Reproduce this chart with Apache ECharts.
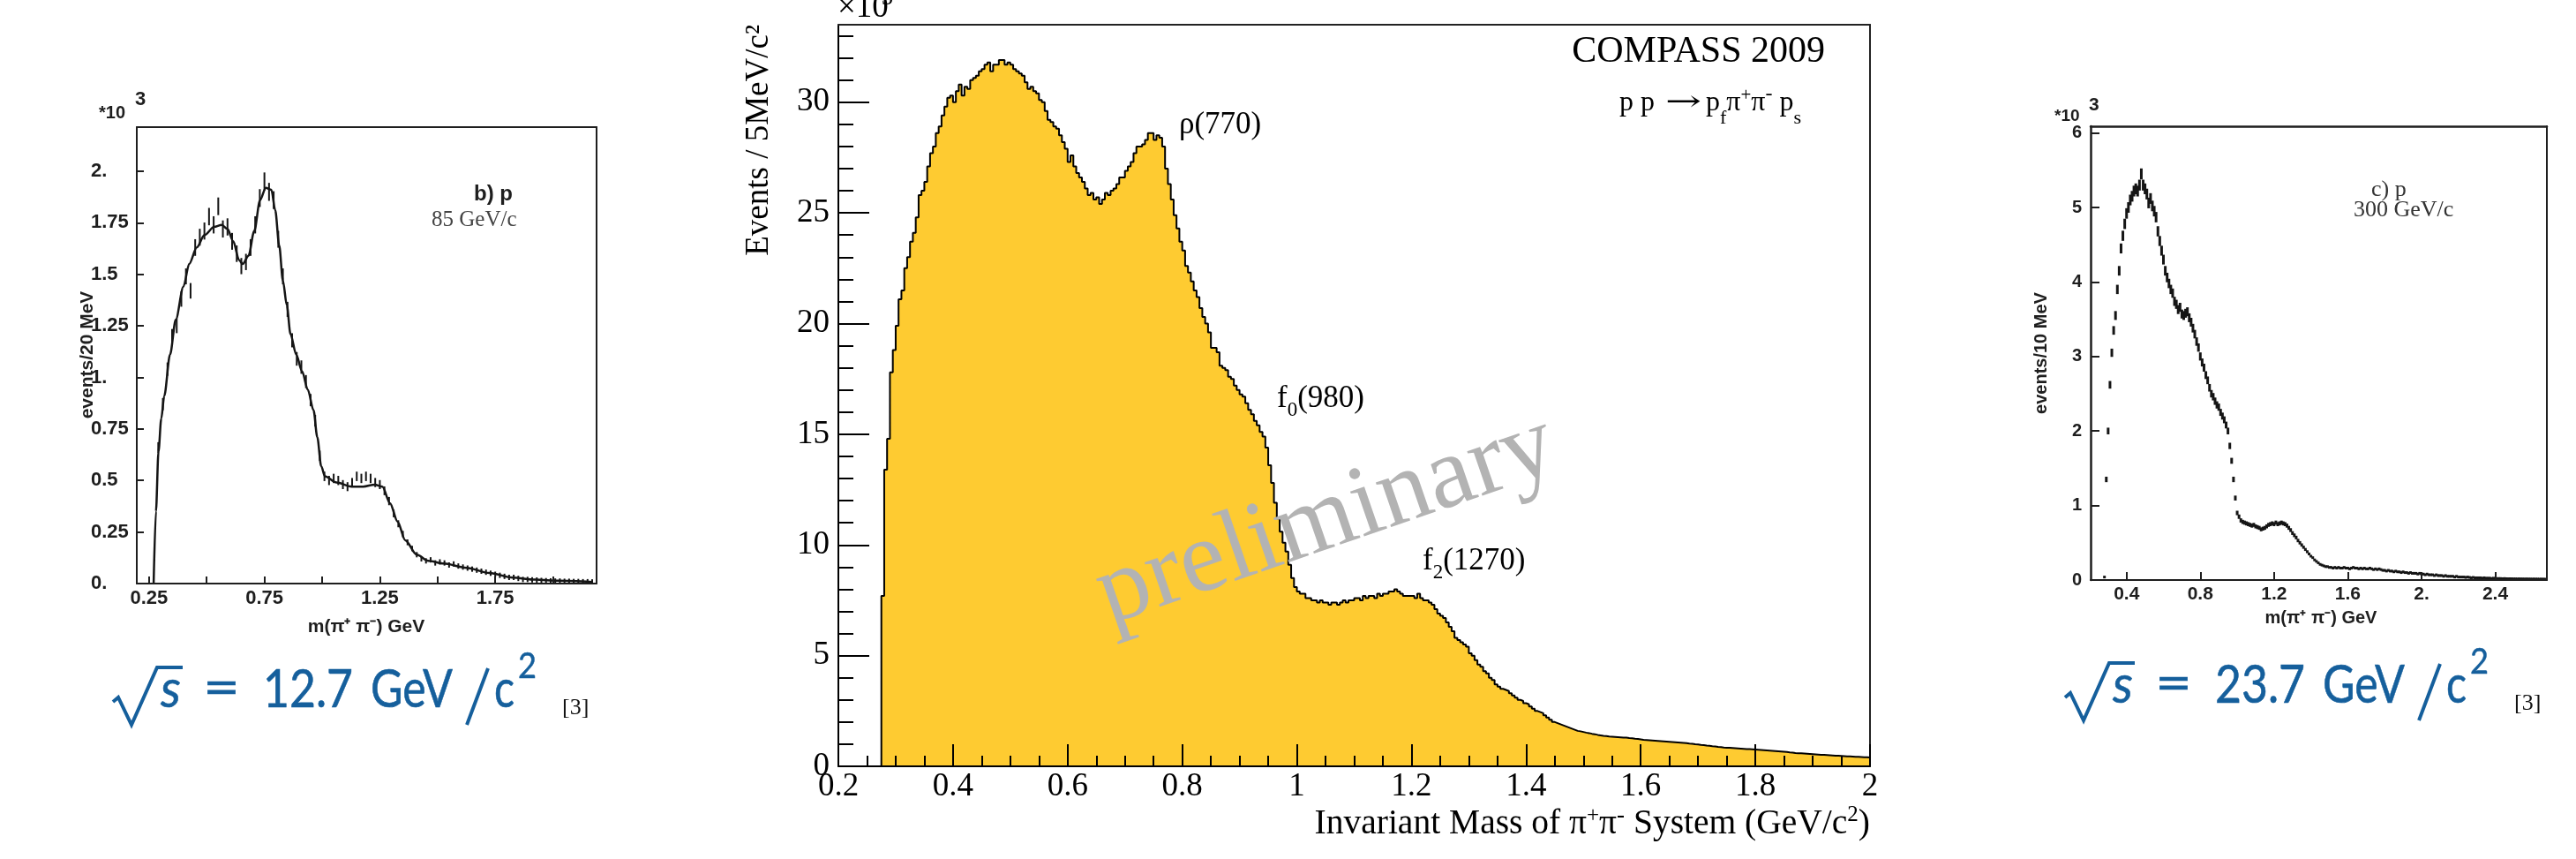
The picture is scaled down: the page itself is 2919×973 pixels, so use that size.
<!DOCTYPE html>
<html>
<head>
<meta charset="utf-8">
<title>π⁺π⁻ invariant mass spectra</title>
<style>
  html, body { margin: 0; padding: 0; background: #ffffff; }
  #chart { width: 2919px; height: 973px; }
</style>
<script src="https://cdn.jsdelivr.net/npm/echarts@6/dist/echarts.min.js"></script>
</head>
<body>
<div id="chart"></div>
<script>
// ---------------------------------------------------------------------------
// COMPASS 2009, p p -> p_f pi+ pi- p_s : events per 5 MeV/c^2 (x10^3),
// bins start at 0.200 GeV/c^2, one value per bin, up to 2.000 GeV/c^2.
// ---------------------------------------------------------------------------
const compassBinLow = 0.2;
const compassBinWidth = 0.005;
const compassCounts = [
  0, 0, 0, 0, 0, 0, 0, 0, 0, 0, 0, 0, 0, 0, 0, 7.7, 13.4, 14.8, 17.8, 18.8,            // 0.20
  19.9, 21.1, 21.5, 22.5, 23.0, 23.7, 24.1, 24.8, 25.8, 26.0, 26.4, 27.1, 27.7, 28.0, 28.6, 28.9, 29.4, 29.8, 30.2, 30.3, // 0.30
  30.0, 30.5, 30.8, 30.3, 30.7, 30.6, 31.0, 31.1, 31.2, 31.4, 31.5, 31.7, 31.8, 31.4, 31.7, 31.7, 31.9, 31.9, 31.7, 31.8, // 0.40
  31.7, 31.5, 31.4, 31.3, 31.2, 30.9, 30.6, 30.7, 30.5, 30.4, 30.1, 30.0, 29.6, 29.2, 29.1, 28.9, 28.8, 28.5, 28.2, 27.9, // 0.50
  27.3, 27.6, 27.1, 26.8, 26.6, 26.4, 26.1, 25.8, 25.9, 25.6, 25.7, 25.4, 25.6, 25.9, 25.8, 26.0, 26.1, 26.3, 26.6, 26.6, // 0.60
  26.9, 27.1, 27.3, 27.7, 28.0, 28.0, 28.1, 28.3, 28.6, 28.6, 28.3, 28.5, 28.4, 28.0, 27.0, 26.3, 25.6, 24.9, 24.3, 23.7, // 0.70
  23.3, 22.6, 22.3, 21.9, 21.5, 21.2, 20.7, 20.3, 20.0, 19.6, 18.9, 18.9, 18.7, 18.1, 18.0, 17.9, 17.6, 17.5, 17.2, 17.0, // 0.80
  16.8, 16.7, 16.4, 16.1, 15.9, 15.6, 15.4, 15.1, 14.9, 14.4, 13.6, 12.8, 11.9, 11.2, 10.6, 10.1, 9.7, 9.1, 8.5, 8.1,     // 0.90
  7.9, 7.8, 7.8, 7.6, 7.6, 7.5, 7.5, 7.4, 7.5, 7.4, 7.4, 7.3, 7.4, 7.4, 7.3, 7.4, 7.5, 7.4, 7.5, 7.5,                    // 1.00
  7.6, 7.6, 7.5, 7.7, 7.6, 7.7, 7.7, 7.6, 7.8, 7.7, 7.8, 7.8, 7.9, 7.9, 8.0, 7.9, 7.8, 7.7, 7.7, 7.7,                    // 1.10
  7.7, 7.6, 7.8, 7.6, 7.5, 7.5, 7.4, 7.3, 7.1, 6.9, 6.8, 6.7, 6.5, 6.3, 6.1, 5.8, 5.7, 5.6, 5.5, 5.4,                    // 1.20
  5.1, 5.0, 4.8, 4.6, 4.5, 4.3, 4.2, 4.0, 3.9, 3.7, 3.6, 3.5, 3.45, 3.4, 3.3, 3.2, 3.1, 3.0, 2.95, 2.85,                 // 1.30
  2.8, 2.7, 2.6, 2.5, 2.45, 2.4, 2.3, 2.2, 2.1, 2.0, 1.95, 1.9, 1.85, 1.8, 1.75, 1.7, 1.65, 1.6, 1.58, 1.55,             // 1.40
  1.52, 1.5, 1.47, 1.45, 1.42, 1.4, 1.38, 1.37, 1.35, 1.34, 1.33, 1.32, 1.31, 1.3, 1.3, 1.28, 1.27, 1.25, 1.24, 1.22,    // 1.50
  1.2, 1.19, 1.18, 1.17, 1.16, 1.15, 1.14, 1.13, 1.12, 1.11, 1.1, 1.09, 1.08, 1.07, 1.06, 1.05, 1.03, 1.02, 1.0, 0.99,   // 1.60
  0.97, 0.96, 0.94, 0.93, 0.91, 0.9, 0.88, 0.87, 0.85, 0.84, 0.84, 0.83, 0.82, 0.81, 0.8, 0.79, 0.78, 0.78, 0.77, 0.76,  // 1.70
  0.75, 0.74, 0.73, 0.72, 0.71, 0.7, 0.69, 0.68, 0.67, 0.66, 0.65, 0.63, 0.62, 0.6, 0.59, 0.59, 0.58, 0.57, 0.56, 0.55,  // 1.80
  0.54, 0.53, 0.52, 0.52, 0.51, 0.5, 0.49, 0.48, 0.48, 0.47, 0.46, 0.45, 0.45, 0.44, 0.43, 0.43, 0.42, 0.41, 0.41, 0.4   // 1.90
];
const compassXTicks = [0.2, 0.4, 0.6, 0.8, 1.0, 1.2, 1.4, 1.6, 1.8, 2.0];
const compassXTickText = ['0.2', '0.4', '0.6', '0.8', '1', '1.2', '1.4', '1.6', '1.8', '2'];
const compassYTicks = [0, 5, 10, 15, 20, 25, 30];
const compassYTickText = ['0', '5', '10', '15', '20', '25', '30'];

// ---------------------------------------------------------------------------
// 85 GeV/c (sqrt(s) = 12.7 GeV): fitted curve and data points, events / 20 MeV (x10^3)
// ---------------------------------------------------------------------------
const lowCurveMass = [0.270, 0.280, 0.291, 0.303, 0.316, 0.341, 0.366, 0.399, 0.424, 0.457,
  0.490, 0.532, 0.565, 0.590, 0.615, 0.640, 0.656, 0.681, 0.706, 0.731,
  0.756, 0.780, 0.797, 0.814, 0.830, 0.847, 0.863, 0.888, 0.913, 0.938,
  0.963, 0.979, 0.996, 1.012, 1.062, 1.128, 1.178, 1.228, 1.261, 1.294,
  1.327, 1.360, 1.410, 1.460, 1.526, 1.626, 1.725, 1.825, 1.924, 2.024, 2.170];
const lowCurveValue = [0, 0.35, 0.64, 0.80, 0.91, 1.11, 1.28, 1.44, 1.55, 1.63,
  1.69, 1.73, 1.74, 1.72, 1.66, 1.57, 1.55, 1.59, 1.71, 1.86,
  1.92, 1.91, 1.81, 1.64, 1.47, 1.35, 1.21, 1.11, 1.03, 0.94,
  0.84, 0.71, 0.57, 0.52, 0.49, 0.47, 0.47, 0.48, 0.47, 0.39,
  0.30, 0.21, 0.14, 0.11, 0.097, 0.076, 0.051, 0.029, 0.019, 0.014, 0.008];
const lowPointFirst = 0.29;   // centre of the first 20 MeV bin
const lowPointStep = 0.02;
const lowPointValue = [
  0.66, 0.87, 1.04, 1.20, 1.25, 1.38, 1.49, 1.42, 1.63, 1.68,
  1.71, 1.78, 1.74, 1.83, 1.72, 1.73, 1.66, 1.60, 1.54, 1.56,
  1.63, 1.74, 1.87, 1.95, 1.90, 1.86, 1.67, 1.49, 1.33, 1.18,
  1.09, 1.05, 0.98, 0.89, 0.79, 0.62, 0.52, 0.50, 0.51, 0.50,
  0.48, 0.47, 0.49, 0.52, 0.51, 0.52, 0.51, 0.49, 0.48, 0.45,
  0.40, 0.34, 0.29, 0.24, 0.20, 0.17, 0.14, 0.12, 0.11, 0.115,
  0.10, 0.105, 0.10, 0.09, 0.095, 0.085, 0.08, 0.075, 0.07, 0.065,
  0.06, 0.055, 0.05, 0.045, 0.04, 0.035, 0.03, 0.03, 0.025, 0.02,
  0.02, 0.018, 0.017, 0.015, 0.014, 0.013, 0.012, 0.012, 0.011, 0.011,
  0.010, 0.010, 0.009, 0.009, 0.008
];
const lowXTicks = [0.25, 0.5, 0.75, 1.0, 1.25, 1.5, 1.75, 2.0];
const lowXLabelValues = [0.25, 0.75, 1.25, 1.75];
const lowXLabelText = ['0.25', '0.75', '1.25', '1.75'];
const lowYTicks = [0, 0.25, 0.5, 0.75, 1.0, 1.25, 1.5, 1.75, 2.0];
const lowYTickText = ['0.', '0.25', '0.5', '0.75', '1.', '1.25', '1.5', '1.75', '2.'];

// ---------------------------------------------------------------------------
// 300 GeV/c (sqrt(s) = 23.7 GeV): data points, events / 10 MeV (x10^3)
// ---------------------------------------------------------------------------
const highPointFirst = 0.28;
const highPointStep = 0.01;
const highPointValue = [
  0.04, 1.35,
  2.0, 2.62, 3.05, 3.35, 3.55, 3.9, 4.15, 4.45, 4.62, 4.78,          // 0.30
  4.92, 5.0, 5.1, 5.15, 5.22, 5.25, 5.22, 5.3, 5.45, 5.3,            // 0.40
  5.25, 5.18, 5.06, 5.12, 5.02, 4.95, 4.87, 4.68, 4.55, 4.42,        // 0.50
  4.3, 4.15, 4.06, 3.98, 3.9, 3.85, 3.74, 3.7, 3.63, 3.66,           // 0.60
  3.57, 3.55, 3.58, 3.6, 3.52, 3.46, 3.38, 3.3, 3.2, 3.12,           // 0.70
  3.0, 2.92, 2.85, 2.75, 2.68, 2.58, 2.5, 2.46, 2.4, 2.35,           // 0.80
  2.32, 2.25, 2.2, 2.15, 2.08, 2.0, 1.8, 1.6, 1.35, 1.1,             // 0.90
  0.9, 0.85, 0.8, 0.78, 0.77, 0.76, 0.75, 0.74, 0.73, 0.74,          // 1.00
  0.72, 0.71, 0.7, 0.68, 0.69, 0.7, 0.72, 0.74, 0.75, 0.76,          // 1.10
  0.75, 0.77, 0.75, 0.76, 0.77, 0.76, 0.75, 0.73, 0.7, 0.67,         // 1.20
  0.63, 0.6, 0.57, 0.53, 0.5, 0.47, 0.44, 0.41, 0.38, 0.35,          // 1.30
  0.32, 0.3, 0.27, 0.25, 0.23, 0.21, 0.2, 0.19, 0.18, 0.18,          // 1.40
  0.17, 0.17, 0.16, 0.17, 0.16, 0.17, 0.16, 0.16, 0.17, 0.16,        // 1.50
  0.16, 0.15, 0.16, 0.17, 0.16, 0.16, 0.15, 0.16, 0.15, 0.16,        // 1.60
  0.15, 0.15, 0.16, 0.15, 0.14, 0.15, 0.14, 0.15, 0.14, 0.13,        // 1.70
  0.13, 0.12, 0.13, 0.12, 0.12, 0.11, 0.12, 0.11, 0.11, 0.1,         // 1.80
  0.11, 0.1, 0.1, 0.09, 0.1, 0.09, 0.09, 0.09, 0.08, 0.09,           // 1.90
  0.08, 0.08, 0.07, 0.08, 0.07, 0.07, 0.07, 0.06, 0.07, 0.06,        // 2.00
  0.06, 0.06, 0.05, 0.06, 0.05, 0.05, 0.05, 0.05, 0.04, 0.05,        // 2.10
  0.04, 0.04, 0.04, 0.04, 0.035, 0.04, 0.035, 0.03, 0.035, 0.03,     // 2.20
  0.03, 0.03, 0.03, 0.025, 0.03, 0.025, 0.025, 0.025, 0.02, 0.025,   // 2.30
  0.02, 0.02, 0.02, 0.02, 0.018, 0.02, 0.018, 0.017, 0.018, 0.017,   // 2.40
  0.016, 0.016, 0.015, 0.016, 0.015, 0.015, 0.014, 0.015, 0.014, 0.014, // 2.50
  0.013, 0.014, 0.013, 0.013, 0.012, 0.013, 0.012, 0.012            // 2.60
];
const highXTicks = [0.4, 0.8, 1.2, 1.6, 2.0, 2.4];
const highXTickText = ['0.4', '0.8', '1.2', '1.6', '2.', '2.4'];
const highYTicks = [0, 1, 2, 3, 4, 5, 6];
const highYTickText = ['0', '1', '2', '3', '4', '5', '6'];

// ---------------------------------------------------------------------------
// Series data built from the arrays above
// ---------------------------------------------------------------------------
const compassSeriesData = compassCounts.map((v, i) => [compassBinLow + i * compassBinWidth, v]);
compassSeriesData.push([compassBinLow + compassCounts.length * compassBinWidth, compassCounts[compassCounts.length - 1]]);

const lowCurveData = lowCurveMass.map((m, i) => [m, lowCurveValue[i]]);
// statistical (Poisson) uncertainty of each bin, counts are in thousands
const lowPointData = lowPointValue.map((v, i) => [lowPointFirst + i * lowPointStep, v, Math.sqrt(v * 1000) / 1000]);
const highPointData = highPointValue.map((v, i) => [highPointFirst + i * highPointStep, v, Math.sqrt(v * 1000) / 1000]);

// minor tick positions of the COMPASS frame
const compassXMinor = [];
for (let k = 5; k <= 39; k++) { if (k % 4 !== 0) compassXMinor.push(k * 0.05); }
const compassYMinor = [];
for (let k = 1; k <= 33; k++) { if (k % 5 !== 0) compassYMinor.push(k); }

// ---------------------------------------------------------------------------
// Text helpers (placed with canvas font metrics so baselines line up)
// ---------------------------------------------------------------------------
const mctx = document.createElement('canvas').getContext('2d');
function fnt(size, family, weight, style) {
  return (style || 'normal') + ' ' + (weight || 'normal') + ' ' + size + 'px "' + family + '"';
}
function measure(text, font) { mctx.font = font; return mctx.measureText(text); }
function midShift(font) {
  const m = measure('Hg', font);
  if (m.fontBoundingBoxAscent != null) return (m.fontBoundingBoxAscent - m.fontBoundingBoxDescent) / 2;
  return parseFloat(/(\d+(\.\d+)?)px/.exec(font)[1]) * 0.34;
}
function txt(text, x, baseline, font, fill, align, extra) {
  return Object.assign({
    type: 'text', x: x, y: baseline - midShift(font), z: 100, silent: true,
    style: { text: text, font: font, fill: fill, align: align || 'left', verticalAlign: 'middle' }
  }, extra || {});
}
function fit(text, x0, x1, baseline, font, fill, weightStroke) {
  const w = measure(text, font).width;
  const el = txt(text, x0, baseline, font, fill, 'left', { scaleX: (x1 - x0) / w });
  if (weightStroke) { el.style.stroke = fill; el.style.lineWidth = weightStroke; }
  return el;
}
function seq(x, baseline, pieces, fill, align) {
  const widths = pieces.map(p => measure(p[0], p[1]).width);
  const total = widths.reduce((a, b) => a + b, 0);
  let cx = align === 'right' ? x - total : (align === 'center' ? x - total / 2 : x);
  return pieces.map((p, i) => {
    const el = txt(p[0], cx, baseline + (p[2] || 0), p[1], fill);
    cx += widths[i];
    return el;
  });
}
function vtxt(text, cx, cy, font, fill, align) {
  return {
    type: 'text', x: cx, y: cy, rotation: Math.PI / 2, z: 100, silent: true,
    style: { text: text, font: font, fill: fill, align: align || 'center', verticalAlign: 'middle' }
  };
}

const SERIF = 'Liberation Serif';
const SANS = 'Liberation Sans';
const MATH = 'Lato';
const OLD = '#1e1e1e';
const BLUE = '#155f9c';

const graphics = [];

// --- COMPASS panel annotations ---
graphics.push(txt('×10', 949, 22, fnt(37, SERIF), '#000'));
graphics.push(txt('3', 999, 7, fnt(26, SERIF), '#000'));
graphics.push(txt('COMPASS 2009', 2068, 73, fnt(42, SERIF), '#000', 'right'));
graphics.push(txt('p p', 1835, 128, fnt(32, SERIF), '#000'));
graphics.push(fit('→', 1887, 1928, 128, fnt(32, 'DejaVu Serif'), '#000'));
graphics.push(...seq(1933, 128, [
  ['p', fnt(32, SERIF)], ['f', fnt(22, SERIF), 14], ['π', fnt(32, SERIF)],
  ['+', fnt(21, SERIF), -13], ['π', fnt(32, SERIF)], ['-', fnt(24, SERIF), -13],
  [' p', fnt(32, SERIF)], ['s', fnt(22, SERIF), 14]
], '#000'));
graphics.push(txt('ρ(770)', 1336, 153, fnt(35, SERIF), '#000'));
graphics.push(...seq(1447, 463, [['f', fnt(35, SERIF)], ['0', fnt(23, SERIF), 9], ['(980)', fnt(35, SERIF)]], '#000'));
graphics.push(...seq(1612, 647, [['f', fnt(35, SERIF)], ['2', fnt(23, SERIF), 9], ['(1270)', fnt(35, SERIF)]], '#000'));
graphics.push({
  type: 'text', x: 1503, y: 590, rotation: 19 * Math.PI / 180, z: 90, silent: true,
  style: { text: 'preliminary', font: fnt(116, SERIF), fill: '#b3b3b3', align: 'center', verticalAlign: 'middle' }
});
graphics.push(vtxt('Events / 5MeV/c²', 860, 28, fnt(37, SERIF), '#000', 'right'));
graphics.push(...seq(2119, 947, [
  ['Invariant Mass of π', fnt(39.5, SERIF)], ['+', fnt(25, SERIF), -14], ['π', fnt(39.5, SERIF)],
  ['-', fnt(27, SERIF), -14], [' System (GeV/c', fnt(39.5, SERIF)], ['2', fnt(25, SERIF), -15], [')', fnt(39.5, SERIF)]
], '#000', 'right'));

// --- 85 GeV/c panel annotations ---
graphics.push(txt('*10', 112, 135, fnt(20, SANS, 'bold'), OLD));
graphics.push(txt('3', 153, 120, fnt(22, SANS, 'bold'), OLD));
graphics.push(txt('b) p', 537, 229, fnt(24, SANS, 'bold'), OLD));
graphics.push(txt('85 GeV/c', 489, 258, fnt(25, SERIF), '#444'));
graphics.push(vtxt('events/20 MeV', 99, 402, fnt(21, SANS, 'bold'), OLD));
graphics.push(txt('m(π⁺ π⁻) GeV', 415, 718, fnt(21, SANS, 'bold'), OLD, 'center'));

// --- 300 GeV/c panel annotations ---
graphics.push(txt('*10', 2328, 138, fnt(19, SANS, 'bold'), OLD));
graphics.push(txt('3', 2367, 127, fnt(21, SANS, 'bold'), OLD));
graphics.push(txt('c) p', 2687, 224, fnt(26, SERIF), '#333'));
graphics.push(txt('300 GeV/c', 2667, 247, fnt(26, SERIF), '#333'));
graphics.push(vtxt('events/10 MeV', 2313, 400, fnt(20, SANS, 'bold'), OLD));
graphics.push(txt('m(π⁺ π⁻) GeV', 2630, 707, fnt(20, SANS, 'bold'), OLD, 'center'));

// --- centre-of-mass energy captions ---
function caption(base, xs, energy) {
  const out = [];
  out.push({ type: 'polyline', z: 100, silent: true, shape: { points: xs.root },
    style: { stroke: BLUE, lineWidth: 4, fill: null, lineJoin: 'miter' } });
  out.push(fit('s', xs.s[0], xs.s[1], base, fnt(60, MATH, 'normal', 'italic'), BLUE, 0.6));
  out.push(fit('=', xs.eq[0], xs.eq[1], base - 2, fnt(60, MATH), BLUE, 0.6));
  out.push(fit(energy, xs.num[0], xs.num[1], base, fnt(60, MATH), BLUE, 0.6));
  out.push(fit('GeV', xs.gev[0], xs.gev[1], base, fnt(60, MATH), BLUE, 0.6));
  out.push({ type: 'line', z: 100, silent: true, shape: xs.slash, style: { stroke: BLUE, lineWidth: 4 } });
  out.push(fit('c', xs.c[0], xs.c[1], base, fnt(60, MATH), BLUE, 0.6));
  out.push(fit('2', xs.sq[0], xs.sq[1], base - 35, fnt(40, MATH), BLUE, 0.5));
  out.push(txt('[3]', xs.ref, base + 6, fnt(26, SERIF), '#111'));
  return out;
}
graphics.push(...caption(805, {
  root: [[128, 795], [134, 790], [149, 821], [178, 756], [207, 756]],
  s: [182, 205], eq: [230, 272], num: [298, 400], gev: [420, 513],
  slash: { x1: 553, y1: 757, x2: 529, y2: 821 }, c: [560, 583], sq: [587, 608], ref: 637
}, '12.7'));
graphics.push(...caption(800, {
  root: [[2340, 790], [2346, 785], [2361, 816], [2390, 751], [2419, 751]],
  s: [2394, 2417], eq: [2442, 2484], num: [2510, 2612], gev: [2632, 2725],
  slash: { x1: 2765, y1: 752, x2: 2741, y2: 816 }, c: [2772, 2795], sq: [2799, 2820], ref: 2849
}, '23.7'));

// ---------------------------------------------------------------------------
// Axes
// ---------------------------------------------------------------------------
function lookup(values, texts) {
  return v => { const i = values.findIndex(t => Math.abs(t - v) < 1e-6); return i < 0 ? '' : texts[i]; };
}
function frameAxis(gridIndex, position, min, max, color, width) {
  return {
    type: 'value', gridIndex, position, min, max, z: 10,
    axisLine: { show: true, onZero: false, lineStyle: { color, width } },
    axisTick: { show: false }, axisLabel: { show: false }, splitLine: { show: false }
  };
}
function tickAxis(gridIndex, position, min, max, ticks, length, color) {
  return {
    type: 'value', gridIndex, position, min, max, z: 10,
    axisLine: { show: false, onZero: false },
    axisTick: { show: true, inside: true, length, customValues: ticks, lineStyle: { color, width: 2 } },
    axisLabel: { show: false }, splitLine: { show: false }
  };
}

const xAxes = [
  // 85 GeV/c panel
  {
    type: 'value', gridIndex: 0, position: 'bottom', min: 0.197, max: 2.189, z: 10,
    axisLine: { show: true, onZero: false, lineStyle: { color: OLD, width: 2 } },
    axisTick: { show: true, inside: true, length: 8, customValues: lowXTicks, lineStyle: { color: OLD, width: 2 } },
    axisLabel: { show: true, customValues: lowXLabelValues, formatter: lookup(lowXLabelValues, lowXLabelText),
      margin: 6, fontFamily: SANS, fontWeight: 'bold', fontSize: 22, color: OLD },
    splitLine: { show: false }
  },
  frameAxis(0, 'top', 0.197, 2.189, OLD, 2),
  // COMPASS panel
  {
    type: 'value', gridIndex: 1, position: 'bottom', min: 0.2, max: 2.0, z: 10,
    axisLine: { show: true, onZero: false, lineStyle: { color: '#000', width: 2 } },
    axisTick: { show: true, inside: true, length: 25, customValues: compassXTicks, lineStyle: { color: '#000', width: 2 } },
    axisLabel: { show: true, customValues: compassXTicks, formatter: lookup(compassXTicks, compassXTickText),
      margin: 5, fontFamily: SERIF, fontSize: 37, color: '#000' },
    splitLine: { show: false }
  },
  tickAxis(1, 'bottom', 0.2, 2.0, compassXMinor, 12, '#000'),
  frameAxis(1, 'top', 0.2, 2.0, '#222', 2),
  // 300 GeV/c panel
  {
    type: 'value', gridIndex: 2, position: 'bottom', min: 0.205, max: 2.68, z: 10,
    axisLine: { show: true, onZero: false, lineStyle: { color: OLD, width: 2 } },
    axisTick: { show: true, inside: true, length: 9, customValues: highXTicks, lineStyle: { color: OLD, width: 2 } },
    axisLabel: { show: true, customValues: highXTicks, formatter: lookup(highXTicks, highXTickText),
      margin: 6, fontFamily: SANS, fontWeight: 'bold', fontSize: 21, color: OLD },
    splitLine: { show: false }
  },
  frameAxis(2, 'top', 0.205, 2.68, OLD, 2.5)
];

const yAxes = [
  // 85 GeV/c panel
  {
    type: 'value', gridIndex: 0, position: 'left', min: 0, max: 2.214, z: 10,
    axisLine: { show: true, onZero: false, lineStyle: { color: OLD, width: 2 } },
    axisTick: { show: true, inside: true, length: 8, customValues: lowYTicks, lineStyle: { color: OLD, width: 2 } },
    axisLabel: { show: true, customValues: lowYTicks, formatter: lookup(lowYTicks, lowYTickText),
      align: 'left', margin: 52, fontFamily: SANS, fontWeight: 'bold', fontSize: 22, color: OLD },
    splitLine: { show: false }
  },
  frameAxis(0, 'right', 0, 2.214, OLD, 2),
  // COMPASS panel
  {
    type: 'value', gridIndex: 1, position: 'left', min: 0, max: 33.5, z: 10,
    axisLine: { show: true, onZero: false, lineStyle: { color: '#000', width: 2 } },
    axisTick: { show: true, inside: true, length: 35, customValues: compassYTicks, lineStyle: { color: '#000', width: 2 } },
    axisLabel: { show: true, customValues: compassYTicks, formatter: lookup(compassYTicks, compassYTickText),
      margin: 10, fontFamily: SERIF, fontSize: 37, color: '#000' },
    splitLine: { show: false }
  },
  tickAxis(1, 'left', 0, 33.5, compassYMinor, 17, '#000'),
  frameAxis(1, 'right', 0, 33.5, '#222', 2),
  // 300 GeV/c panel
  {
    type: 'value', gridIndex: 2, position: 'left', min: 0, max: 6.09, z: 10,
    axisLine: { show: true, onZero: false, lineStyle: { color: OLD, width: 2.5 } },
    axisTick: { show: true, inside: true, length: 10, customValues: highYTicks, lineStyle: { color: OLD, width: 2 } },
    axisLabel: { show: true, customValues: highYTicks, formatter: lookup(highYTicks, highYTickText),
      margin: 10, fontFamily: SANS, fontWeight: 'bold', fontSize: 20, color: OLD },
    splitLine: { show: false }
  },
  frameAxis(2, 'right', 0, 6.09, OLD, 2)
];

// vertical error bar for one data point
function errorBar(width, minLen) {
  return function (params, api) {
    const x = api.value(0), v = api.value(1), e = api.value(2);
    const top = api.coord([x, v + e]);
    const bot = api.coord([x, Math.max(0, v - e)]);
    let y1 = top[1], y2 = bot[1];
    if (y2 - y1 < minLen) { const c = (y1 + y2) / 2; y1 = c - minLen / 2; y2 = c + minLen / 2; }
    return { type: 'line', shape: { x1: top[0], y1, x2: top[0], y2 }, style: { stroke: '#151515', lineWidth: width } };
  };
}

const option = {
  backgroundColor: '#ffffff',
  animation: false,
  textStyle: { fontFamily: SERIF },
  grid: [
    { left: 155, top: 144, width: 521, height: 517, containLabel: false, outerBoundsMode: 'none', show: false },
    { left: 950, top: 28, width: 1169, height: 840, containLabel: false, outerBoundsMode: 'none', show: false },
    { left: 2369, top: 143, width: 517, height: 514, containLabel: false, outerBoundsMode: 'none', show: false }
  ],
  xAxis: xAxes,
  yAxis: yAxes,
  series: [
    {
      name: 'COMPASS 2009', type: 'line', xAxisIndex: 2, yAxisIndex: 2,
      step: 'end', symbol: 'none', data: compassSeriesData, z: 2,
      lineStyle: { color: '#000', width: 2 },
      areaStyle: { color: '#fecb31', opacity: 1 }
    },
    {
      name: '85 GeV/c fit', type: 'line', xAxisIndex: 0, yAxisIndex: 0,
      smooth: 0.3, smoothMonotone: 'x', symbol: 'none', data: lowCurveData, z: 3,
      lineStyle: { color: '#151515', width: 2.5 }
    },
    {
      name: '85 GeV/c data', type: 'custom', xAxisIndex: 0, yAxisIndex: 0, z: 4, clip: true,
      encode: { x: 0, y: 1 }, data: lowPointData, renderItem: errorBar(2, 6)
    },
    {
      name: '300 GeV/c data', type: 'custom', xAxisIndex: 5, yAxisIndex: 5, z: 4, clip: true,
      encode: { x: 0, y: 1 }, data: highPointData, renderItem: errorBar(3, 3)
    }
  ],
  graphic: { elements: graphics }
};

const chart = echarts.init(document.getElementById('chart'), null, { renderer: 'canvas', width: 2919, height: 973 });
chart.setOption(option);
</script>
</body>
</html>
